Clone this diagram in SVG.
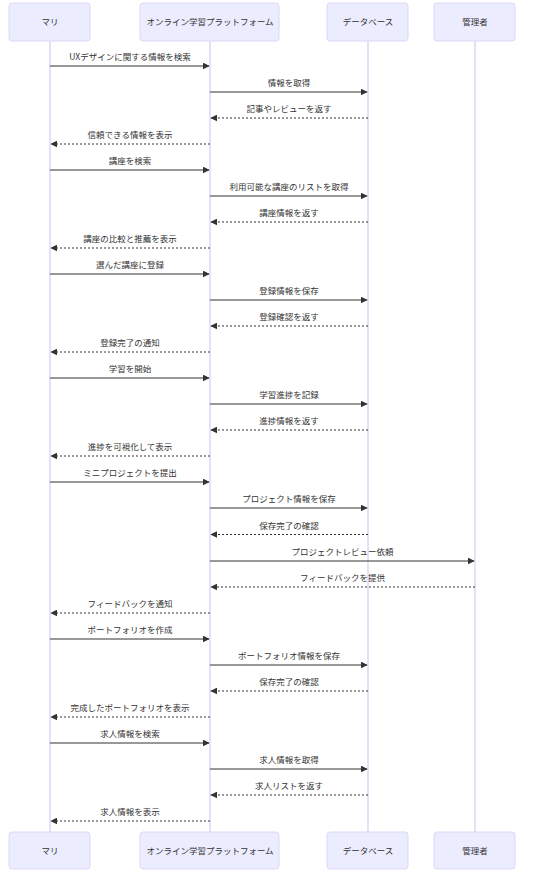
<svg xmlns="http://www.w3.org/2000/svg" width="553" height="876" viewBox="0 0 553 876">
<style>
.box{fill:#ececff;stroke:#dcd7f7;stroke-width:1}
.life{stroke:#d8d0f4;stroke-width:1.3}
.lbl{font-family:"Noto Sans CJK JP","Liberation Sans",sans-serif;font-size:8.5px;fill:#333;text-anchor:middle}
.msg{font-family:"Noto Sans CJK JP","Liberation Sans",sans-serif;font-size:8.5px;fill:#333;text-anchor:middle}
.s{stroke:#333;stroke-width:1;fill:none}
.d{stroke:#333;stroke-width:1;fill:none;stroke-dasharray:2,2}
</style>
<defs>
<marker id="ah" viewBox="0 0 10 10" refX="9" refY="5" markerWidth="7" markerHeight="7" orient="auto-start-reverse" markerUnits="userSpaceOnUse">
<path d="M0,0 L10,5 L0,10 z" fill="#333"/>
</marker>
</defs>
<g id="lifelines">
<line class="life" x1="50" y1="41" x2="50" y2="832"/>
<line class="life" x1="210" y1="41" x2="210" y2="832"/>
<line class="life" x1="368" y1="41" x2="368" y2="832"/>
<line class="life" x1="475" y1="41" x2="475" y2="832"/>
</g>
<g id="mari">
<rect class="box" x="9" y="3" width="81" height="38" rx="3"/>
<text class="lbl" x="50" y="25">マリ</text>
<rect class="box" x="9" y="832" width="81" height="37" rx="3"/>
<text class="lbl" x="50" y="853.5">マリ</text>
</g>
<g id="platform">
<rect class="box" x="140" y="3" width="139" height="38" rx="3"/>
<text class="lbl" x="210" y="25">オンライン学習プラットフォーム</text>
<rect class="box" x="140" y="832" width="139" height="37" rx="3"/>
<text class="lbl" x="210" y="853.5">オンライン学習プラットフォーム</text>
</g>
<g id="database">
<rect class="box" x="327" y="3" width="81" height="38" rx="3"/>
<text class="lbl" x="368" y="25">データベース</text>
<rect class="box" x="327" y="832" width="81" height="37" rx="3"/>
<text class="lbl" x="368" y="853.5">データベース</text>
</g>
<g id="admin">
<rect class="box" x="434" y="3" width="81" height="38" rx="3"/>
<text class="lbl" x="475" y="25">管理者</text>
<rect class="box" x="434" y="832" width="81" height="37" rx="3"/>
<text class="lbl" x="475" y="853.5">管理者</text>
</g>
<g id="connectors">
<line class="s" x1="50" y1="66" x2="209" y2="66" marker-end="url(#ah)"/>
<line class="s" x1="210" y1="92" x2="367" y2="92" marker-end="url(#ah)"/>
<line class="d" x1="368" y1="118" x2="211" y2="118" marker-end="url(#ah)"/>
<line class="d" x1="210" y1="144" x2="51" y2="144" marker-end="url(#ah)"/>
<line class="s" x1="50" y1="170" x2="209" y2="170" marker-end="url(#ah)"/>
<line class="s" x1="210" y1="196" x2="367" y2="196" marker-end="url(#ah)"/>
<line class="d" x1="368" y1="222" x2="211" y2="222" marker-end="url(#ah)"/>
<line class="d" x1="210" y1="248" x2="51" y2="248" marker-end="url(#ah)"/>
<line class="s" x1="50" y1="274" x2="209" y2="274" marker-end="url(#ah)"/>
<line class="s" x1="210" y1="300" x2="367" y2="300" marker-end="url(#ah)"/>
<line class="d" x1="368" y1="326" x2="211" y2="326" marker-end="url(#ah)"/>
<line class="d" x1="210" y1="352" x2="51" y2="352" marker-end="url(#ah)"/>
<line class="s" x1="50" y1="378" x2="209" y2="378" marker-end="url(#ah)"/>
<line class="s" x1="210" y1="404" x2="367" y2="404" marker-end="url(#ah)"/>
<line class="d" x1="368" y1="430" x2="211" y2="430" marker-end="url(#ah)"/>
<line class="d" x1="210" y1="456" x2="51" y2="456" marker-end="url(#ah)"/>
<line class="s" x1="50" y1="482" x2="209" y2="482" marker-end="url(#ah)"/>
<line class="s" x1="210" y1="508" x2="367" y2="508" marker-end="url(#ah)"/>
<line class="d" x1="368" y1="534.5" x2="211" y2="534.5" marker-end="url(#ah)"/>
<line class="s" x1="210" y1="561" x2="474" y2="561" marker-end="url(#ah)"/>
<line class="d" x1="475" y1="587" x2="211" y2="587" marker-end="url(#ah)"/>
<line class="d" x1="210" y1="613" x2="51" y2="613" marker-end="url(#ah)"/>
<line class="s" x1="50" y1="639" x2="209" y2="639" marker-end="url(#ah)"/>
<line class="s" x1="210" y1="665" x2="367" y2="665" marker-end="url(#ah)"/>
<line class="d" x1="368" y1="691" x2="211" y2="691" marker-end="url(#ah)"/>
<line class="d" x1="210" y1="717" x2="51" y2="717" marker-end="url(#ah)"/>
<line class="s" x1="50" y1="743" x2="209" y2="743" marker-end="url(#ah)"/>
<line class="s" x1="210" y1="769" x2="367" y2="769" marker-end="url(#ah)"/>
<line class="d" x1="368" y1="795" x2="211" y2="795" marker-end="url(#ah)"/>
<line class="d" x1="210" y1="821" x2="51" y2="821" marker-end="url(#ah)"/>
</g>
<g id="labels">
<text class="msg" x="130" y="60">UXデザインに関する情報を検索</text>
<text class="msg" x="289" y="86">情報を取得</text>
<text class="msg" x="289" y="112">記事やレビューを返す</text>
<text class="msg" x="130" y="138">信頼できる情報を表示</text>
<text class="msg" x="130" y="164">講座を検索</text>
<text class="msg" x="289" y="190">利用可能な講座のリストを取得</text>
<text class="msg" x="289" y="216">講座情報を返す</text>
<text class="msg" x="130" y="242">講座の比較と推薦を表示</text>
<text class="msg" x="130" y="268">選んだ講座に登録</text>
<text class="msg" x="289" y="294">登録情報を保存</text>
<text class="msg" x="289" y="320">登録確認を返す</text>
<text class="msg" x="130" y="346">登録完了の通知</text>
<text class="msg" x="130" y="372">学習を開始</text>
<text class="msg" x="289" y="398">学習進捗を記録</text>
<text class="msg" x="289" y="424">進捗情報を返す</text>
<text class="msg" x="130" y="450">進捗を可視化して表示</text>
<text class="msg" x="130" y="476">ミニプロジェクトを提出</text>
<text class="msg" x="289" y="502">プロジェクト情報を保存</text>
<text class="msg" x="289" y="528.5">保存完了の確認</text>
<text class="msg" x="342.5" y="555">プロジェクトレビュー依頼</text>
<text class="msg" x="342.5" y="581">フィードバックを提供</text>
<text class="msg" x="130" y="607">フィードバックを通知</text>
<text class="msg" x="130" y="633">ポートフォリオを作成</text>
<text class="msg" x="289" y="659">ポートフォリオ情報を保存</text>
<text class="msg" x="289" y="685">保存完了の確認</text>
<text class="msg" x="130" y="711">完成したポートフォリオを表示</text>
<text class="msg" x="130" y="737">求人情報を検索</text>
<text class="msg" x="289" y="763">求人情報を取得</text>
<text class="msg" x="289" y="789">求人リストを返す</text>
<text class="msg" x="130" y="815">求人情報を表示</text>
</g>
</svg>
